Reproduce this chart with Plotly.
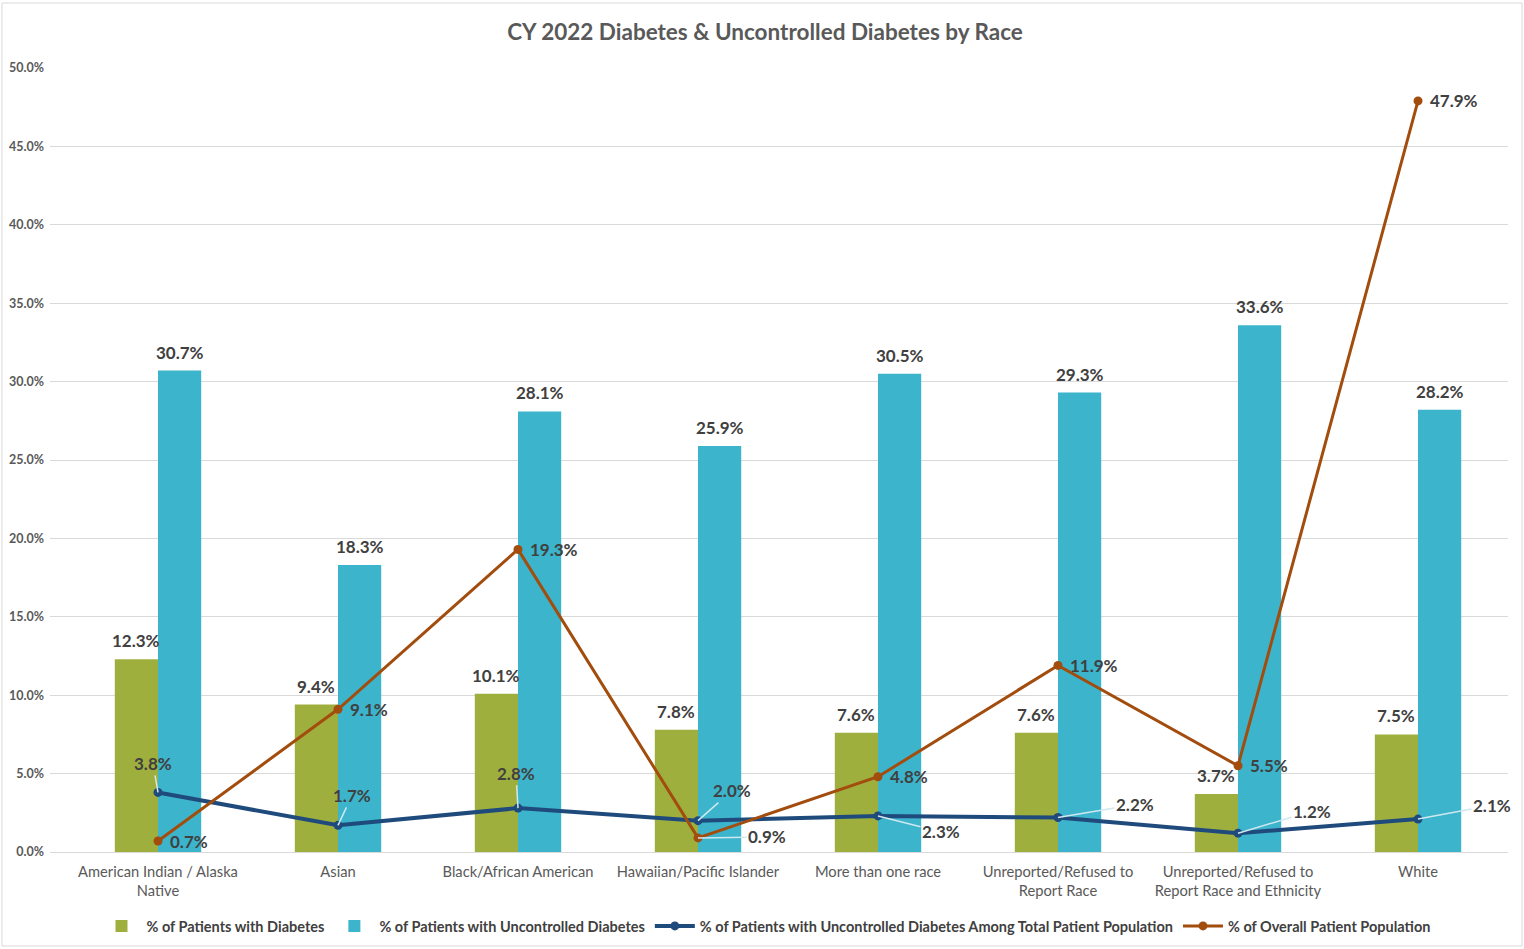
import plotly.graph_objects as go

categories = ["American Indian / Alaska Native", "Asian", "Black/African American",
              "Hawaiian/Pacific Islander", "More than one race",
              "Unreported/Refused to Report Race",
              "Unreported/Refused to Report Race and Ethnicity", "White"]
tick_labels = ["American Indian / Alaska<br>Native", "Asian", "Black/African American",
               "Hawaiian/Pacific Islander", "More than one race",
               "Unreported/Refused to<br>Report Race",
               "Unreported/Refused to<br>Report Race and Ethnicity", "White"]

pct_diabetes = [12.3, 9.4, 10.1, 7.8, 7.6, 7.6, 3.7, 7.5]
pct_uncontrolled = [30.7, 18.3, 28.1, 25.9, 30.5, 29.3, 33.6, 28.2]
pct_uncontrolled_total = [3.8, 1.7, 2.8, 2.0, 2.3, 2.2, 1.2, 2.1]
pct_overall_population = [0.7, 9.1, 19.3, 0.9, 4.8, 11.9, 5.5, 47.9]

y_ticks = [0, 5, 10, 15, 20, 25, 30, 35, 40, 45, 50]
y_tick_labels = [f"{t:.1f}%" for t in y_ticks]

# styling: label offsets in pixels (text centre relative to point)
navy_label_offsets = [(-5, -29), (14, -30), (-2, -35), (34, -30),
                      (63, 16), (77, -13), (74, -22), (74, -14)]
orange_leader = {3: (69, -1)}
BAR_SHIFT = 21.6

FONT = "Lato"
GREEN = "#9FAF3E"
CYAN = "#3BB4CC"
NAVY = "#1F4A7C"
ORANGE = "#A24D0E"
LABEL = "#404040"
GRAY = "#595959"
LEADER = "#CFE8F0"

fig = go.Figure()
fig.add_trace(go.Bar(
    x=categories, y=pct_diabetes, name="% of Patients with Diabetes",
    marker=dict(color=GREEN, line=dict(width=0)),
))
fig.add_trace(go.Bar(
    x=categories, y=pct_uncontrolled, name="% of Patients with Uncontrolled Diabetes",
    marker=dict(color=CYAN, line=dict(width=0)),
))
fig.add_trace(go.Scatter(
    x=categories, y=pct_uncontrolled_total, mode="lines+markers",
    name="% of Patients with Uncontrolled Diabetes Among Total Patient Population",
    line=dict(color=NAVY, width=4), marker=dict(color=NAVY, size=9),
    cliponaxis=False,
))
fig.add_trace(go.Scatter(
    x=categories, y=pct_overall_population, mode="lines+markers",
    name="% of Overall Patient Population",
    line=dict(color=ORANGE, width=3), marker=dict(color=ORANGE, size=9),
    cliponaxis=False,
))

annotations = []
lab_font = dict(family=FONT, size=17, color=LABEL, weight="bold")
for series, shift in ((pct_diabetes, -BAR_SHIFT), (pct_uncontrolled, BAR_SHIFT)):
    for c, v in zip(categories, series):
        annotations.append(dict(
            x=c, y=v, xref="x", yref="y", text=f"{v:.1f}%", font=lab_font,
            showarrow=False, xanchor="center", yanchor="bottom",
            xshift=shift, yshift=6,
        ))
for i, (c, v) in enumerate(zip(categories, pct_uncontrolled_total)):
    ax, ay = navy_label_offsets[i]
    annotations.append(dict(
        x=c, y=v, xref="x", yref="y", text=f"{v:.1f}%", font=lab_font,
        showarrow=True, arrowhead=0, arrowwidth=1.5, arrowcolor=LEADER,
        ax=ax, ay=ay, standoff=0, startstandoff=0,
    ))
for i, (c, v) in enumerate(zip(categories, pct_overall_population)):
    if i in orange_leader:
        ax, ay = orange_leader[i]
        annotations.append(dict(
            x=c, y=v, xref="x", yref="y", text=f"{v:.1f}%", font=lab_font,
            showarrow=True, arrowhead=0, arrowwidth=1.5, arrowcolor=LEADER,
            ax=ax, ay=ay, standoff=0,
        ))
    else:
        annotations.append(dict(
            x=c, y=v, xref="x", yref="y", text=f"{v:.1f}%", font=lab_font,
            showarrow=False, xanchor="left", yanchor="middle", xshift=10,
        ))

W, H = 1524, 949
L, R, T, B = 50, 16, 68, 97
pw, ph = W - L - R, H - T - B

def px_x(p):
    return (p - L) / pw

def px_y(p):
    return (H - B - p) / ph

fig.update_layout(
    width=W, height=H,
    margin=dict(l=L, r=R, t=T, b=B, autoexpand=False),
    paper_bgcolor="white", plot_bgcolor="white",
    barmode="group", bargap=0.52, bargroupgap=0,
    title=dict(text="CY 2022 Diabetes & Uncontrolled Diabetes by Race",
               x=765 / W, xanchor="center", y=1 - 32 / H, yanchor="middle",
               font=dict(family=FONT, size=22.5, color=GRAY, weight="bold")),
    font=dict(family=FONT, color=GRAY),
    legend=dict(orientation="h", x=px_x(766), xanchor="center",
                y=px_y(926), yanchor="middle",
                font=dict(family=FONT, size=14.5, color=LABEL, weight="bold"),
                itemwidth=40, traceorder="normal"),
    xaxis=dict(type="category", range=[-0.6, 7.5], tickmode="array",
               tickvals=categories, ticktext=tick_labels,
               tickfont=dict(family=FONT, size=14.7, color=GRAY),
               showgrid=False, showline=True, linecolor="#D9D9D9", linewidth=1,
               ticks="", ticklabelstandoff=6, automargin=False, fixedrange=True),
    yaxis=dict(range=[0, 50], tickmode="array", tickvals=y_ticks,
               ticktext=y_tick_labels,
               tickfont=dict(family=FONT, size=12.5, color=GRAY, weight="bold"),
               showgrid=True, gridcolor="#D9D9D9", gridwidth=1,
               zeroline=False, ticks="", ticklabelstandoff=5,
               automargin=False, fixedrange=True),
    annotations=annotations,
    shapes=[dict(type="rect", xref="paper", yref="paper",
                 x0=px_x(2), x1=px_x(1522), y0=px_y(946), y1=px_y(3),
                 line=dict(color="#D9D9D9", width=1), layer="below")],
)

fig.write_html("out.html")
